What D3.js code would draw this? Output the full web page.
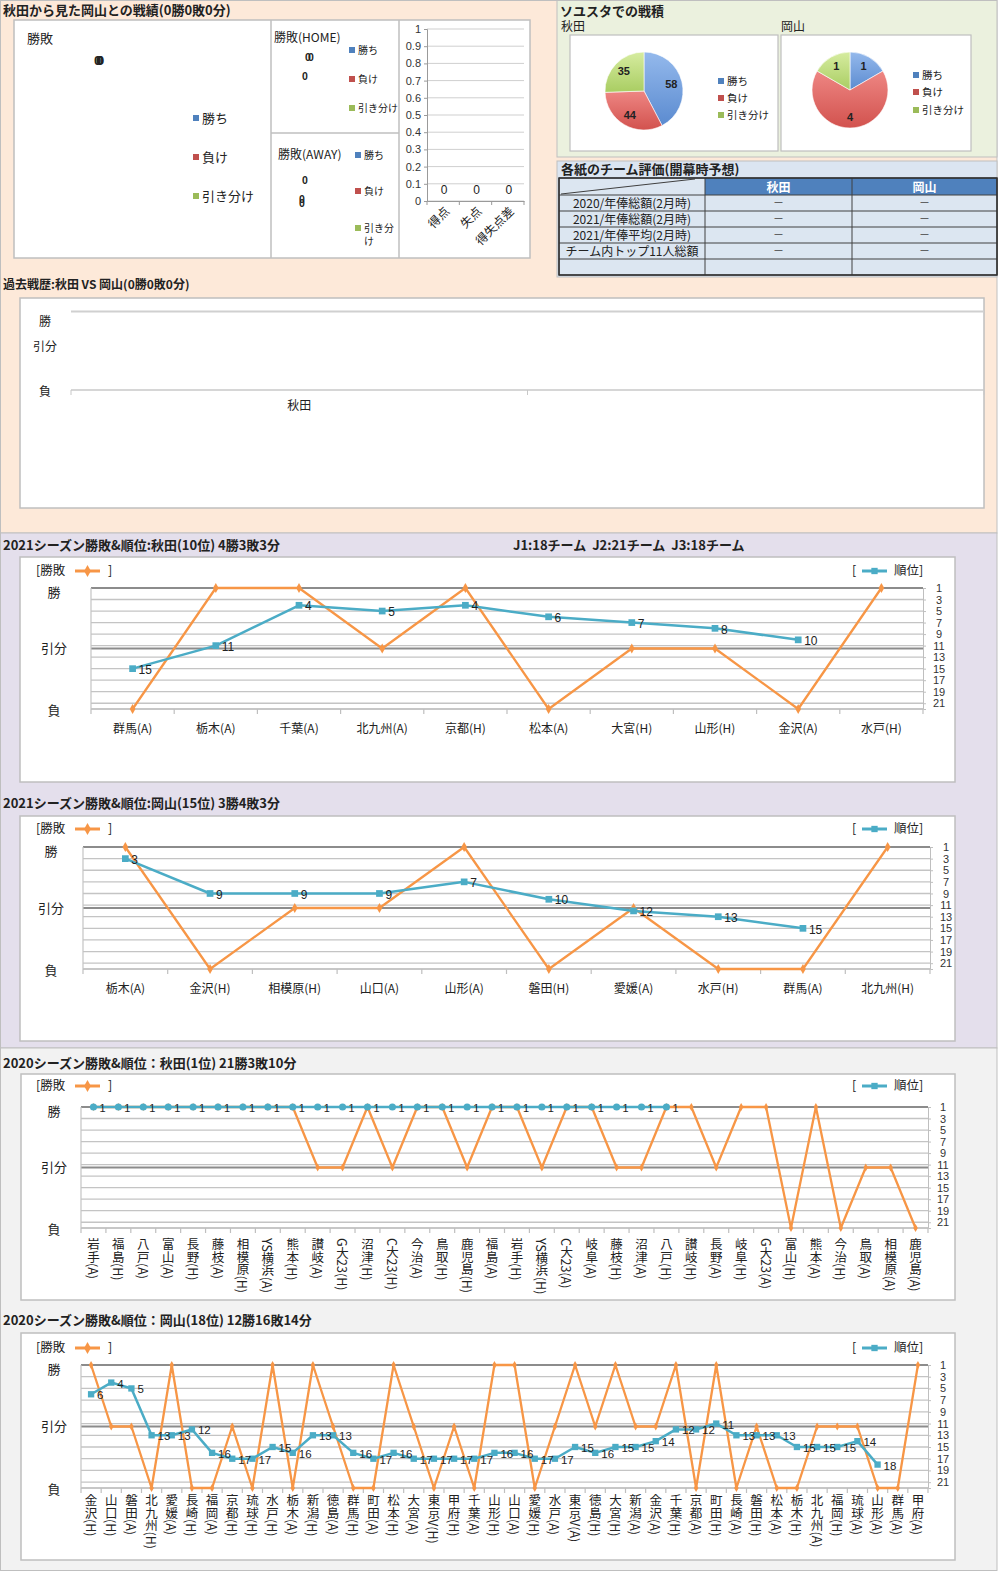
<!DOCTYPE html>
<html><head><meta charset="utf-8">
<script src="https://cdn.jsdelivr.net/npm/d3@7"></script>
<style>
body{margin:0;background:#fff}
svg{display:block}
text{font-family:"Noto Sans CJK JP","Noto Sans",sans-serif;fill:#222}
text.num{font-family:"Liberation Sans","DejaVu Sans",sans-serif}
</style>
</head><body>
<svg id="c" width="1000" height="1571"></svg>
<script>
// ---------------- DATA ----------------
const resultLabels = ["勝","引分","負"];
const resultValues = [1, 0, -1];
const rankTicks = [1,3,5,7,9,11,13,15,17,19,21];
const wldNames = ["勝ち","負け","引き分け"];

// head-to-head (all zero)
const overallWLD = [0,0,0];
const homeWLD = [0,0,0];
const awayWLD = [0,0,0];
const scoreCats = ["得点","失点","得失点差"];
const scoreVals = [0,0,0];

// stadium record
const stadiumAkita = [58,44,35];
const stadiumOkayama = [1,4,1];

// evaluation table
const tableHeader = ["秋田","岡山"];
const tableRows = ["2020/年俸総額(2月時)","2021/年俸総額(2月時)","2021/年俸平均(2月時)","チーム内トップ11人総額",""];
const tableAkita = ["－","－","－","－",""];
const tableOkayama = ["－","－","－","－",""];

// past record
const pastCats = ["秋田",""];
const pastLabelVals = [1, 0.3, -1];

// 2021 Akita
const akita2021Opp = ["群馬(A)","栃木(A)","千葉(A)","北九州(A)","京都(H)","松本(A)","大宮(H)","山形(H)","金沢(A)","水戸(H)"];
const akita2021Res = [-1,1,1,0,1,-1,0,0,-1,1];
const akita2021Rank = [15,11,4,5,4,6,7,8,10,null];

// 2021 Okayama
const okayama2021Opp = ["栃木(A)","金沢(H)","相模原(H)","山口(A)","山形(A)","磐田(H)","愛媛(A)","水戸(H)","群馬(A)","北九州(H)"];
const okayama2021Res = [1,-1,0,0,1,-1,0,-1,-1,1];
const okayama2021Rank = [3,9,9,9,7,10,12,13,15,null];

// 2020 Akita
const akita2020Opp = ["岩手(A)","福島(H)","八戸(A)","富山(A)","長野(H)","藤枝(A)","相模原(H)","YS横浜(A)","熊本(H)","讃岐(A)","G大23(H)","沼津(H)","C大23(H)","今治(A)","鳥取(H)","鹿児島(H)","福島(A)","岩手(H)","YS横浜(H)","C大23(A)","岐阜(A)","藤枝(H)","沼津(A)","八戸(H)","讃岐(H)","長野(A)","岐阜(H)","G大23(A)","富山(H)","熊本(A)","今治(H)","鳥取(A)","相模原(A)","鹿児島(A)"];
const akita2020Res = [1,1,1,1,1,1,1,1,1,0,0,1,0,1,1,0,1,1,0,1,1,0,0,1,1,0,1,1,-1,1,-1,0,0,-1];
const akita2020Rank = [1,1,1,1,1,1,1,1,1,1,1,1,1,1,1,1,1,1,1,1,1,1,1,1,null,null,null,null,null,null,null,null,null,null];

// 2020 Okayama
const okayama2020Opp = ["金沢(H)","山口(H)","磐田(A)","北九州(H)","愛媛(A)","長崎(H)","福岡(A)","京都(H)","琉球(H)","水戸(H)","栃木(A)","新潟(H)","徳島(A)","群馬(H)","町田(A)","松本(H)","大宮(A)","東京V(H)","甲府(H)","千葉(A)","山形(H)","山口(A)","愛媛(H)","水戸(A)","東京V(A)","徳島(H)","大宮(H)","新潟(A)","金沢(A)","千葉(H)","京都(A)","町田(H)","長崎(A)","磐田(H)","松本(A)","栃木(H)","北九州(A)","福岡(H)","琉球(A)","山形(A)","群馬(A)","甲府(A)"];
const okayama2020Res = [1,0,0,-1,1,-1,-1,0,-1,1,-1,1,0,-1,-1,1,0,-1,0,-1,1,1,-1,0,1,0,1,0,0,1,-1,1,-1,0,-1,-1,0,0,0,-1,-1,1];
const okayama2020Rank = [6,4,5,13,13,12,16,17,17,15,16,13,13,16,17,16,17,17,17,17,16,16,17,17,15,16,15,15,14,12,12,11,13,13,13,15,15,15,14,18,null,null];

// ---------------- DRAWING ----------------
const svg = d3.select("#c");
const ORANGE = "#f79646", BLUE = "#4bacc6";
const legendColors = ["#4f81bd","#c0504d","#9bbb59"];
const pieTop = ["#94b9ec","#ee8683","#d6eca0"];
const pieBottom = ["#5b8bd0","#d2524e","#a9cd62"];

const defs = svg.append("defs");
pieTop.forEach((c,i)=>{
  const lg = defs.append("linearGradient").attr("id","pg"+i).attr("x1",0).attr("y1",0).attr("x2",0).attr("y2",1);
  lg.append("stop").attr("offset","0%").attr("stop-color",c);
  lg.append("stop").attr("offset","100%").attr("stop-color",pieBottom[i]);
});

function rect(parent,x0,y0,x1,y1,fill,stroke,sw){
  return parent.append("rect").attr("x",x0).attr("y",y0).attr("width",x1-x0).attr("height",y1-y0)
    .attr("fill",fill).attr("stroke",stroke||"none").attr("stroke-width",sw||1);
}
function txt(parent,x,y,t,size,opt){
  opt = opt||{};
  const e = parent.append("text").attr("x",x).attr("y",y).attr("dy","0.35em")
    .attr("font-size",size).text(t);
  if(opt.bold) e.attr("font-weight","bold");
  if(opt.anchor) e.attr("text-anchor",opt.anchor);
  if(opt.fill) e.style("fill",opt.fill);
  return e;
}
function hline(parent,x1,x2,y,stroke,w){
  return parent.append("line").attr("x1",x1).attr("x2",x2).attr("y1",y).attr("y2",y).attr("stroke",stroke).attr("stroke-width",w||1);
}
function vline(parent,x,y1,y2,stroke,w){
  return parent.append("line").attr("x1",x).attr("x2",x).attr("y1",y1).attr("y2",y2).attr("stroke",stroke).attr("stroke-width",w||1);
}

// section backgrounds
rect(svg,0.5,0.5,997,533,"#fde9d9","#bfbfbf");
rect(svg,557,0.5,997,157,"#ebf1de","#bfbfbf");
rect(svg,557,161,997,277,"#dbe5f1","#bfbfbf");
rect(svg,0.5,533,997,1048,"#e4dfec","#bfbfbf");
rect(svg,0.5,1048,997,1570.5,"#f2f2f2","#bfbfbf");

// ===== Section 1: head to head =====
const s1 = svg.append("g");
txt(s1,3,10,"秋田から見た岡山との戦績(0勝0敗0分)",13,{bold:true});
rect(s1,14,20,530,258,"#fff","#bfbfbf",1.5);
vline(s1,271,20,258,"#bfbfbf",1.5);
vline(s1,399,20,258,"#bfbfbf",1.5);
hline(s1,271,399,133,"#bfbfbf",1.5);

function emptyPiePanel(g, title, tx, ty, vals, labelPts, legX, legYs, fs, legFs, wrapLast, valFs){
  txt(g,tx,ty,title,fs);
  g.selectAll(null).data(vals).join("text").attr("class","num")
    .attr("x",(d,i)=>labelPts[i][0]).attr("y",(d,i)=>labelPts[i][1]).attr("dy","0.35em")
    .attr("font-size",valFs).attr("font-weight","bold").text(d=>d);
  wldNames.forEach((d,i)=>{
    const s = g.append("g");
    s.append("rect").attr("x",legX).attr("y",legYs[i]-3).attr("width",6).attr("height",6).attr("fill",legendColors[i]);
    if(wrapLast && i===2){
      txt(s,legX+9,legYs[i],"引き分",legFs);
      txt(s,legX+9,legYs[i]+13,"け",legFs);
    } else txt(s,legX+9,legYs[i],d,legFs);
  });
}
emptyPiePanel(s1,"勝敗",27,38,overallWLD,[[94,60],[97,60],[96,60]],193,[118,157,196],13,13,false,13);
emptyPiePanel(s1,"勝敗(HOME)",274,38,homeWLD,[[305,57],[308,57],[302,76]],349,[50,79,108],12,10,false,10.5);
emptyPiePanel(s1,"勝敗(AWAY)",278,155,awayWLD,[[302,180],[299,199],[299,203]],355,[155,191,228],12,10,true,10.5);

// score bar chart
{
  const g = s1.append("g");
  const y = d3.scaleLinear().domain([0,1]).range([201,29]);
  const x = d3.scaleBand().domain(scoreCats).range([427,524]);
  g.selectAll(null).data(y.ticks(10)).join("line")
    .attr("x1",427).attr("x2",524).attr("y1",d=>y(d)).attr("y2",d=>y(d))
    .attr("stroke","#cfcfcf").attr("stroke-width",1);
  const ya = g.append("g").attr("transform","translate(427,0)")
    .call(d3.axisLeft(y).ticks(10).tickSize(3).tickFormat(d=>String(+d.toFixed(1))));
  ya.select(".domain").attr("stroke","#9a9a9a");
  ya.selectAll("line").attr("stroke","#9a9a9a");
  ya.selectAll("text").attr("class","num").attr("font-size",11).style("fill","#333");
  const xa = g.append("g").attr("transform","translate(0,201)")
    .call(d3.axisBottom(x).tickSize(0).tickFormat(""));
  xa.select(".domain").attr("stroke","#9a9a9a");
  g.selectAll(null).data(d3.range(scoreCats.length+1)).join("line")
    .attr("x1",i=>427+i*x.step()).attr("x2",i=>427+i*x.step()).attr("y1",201).attr("y2",205)
    .attr("stroke","#9a9a9a");
  g.selectAll(null).data(scoreVals).join("text").attr("class","num")
    .attr("x",(d,i)=>x(scoreCats[i])+x.bandwidth()/2+1).attr("y",190).attr("dy","0.35em")
    .attr("text-anchor","middle").attr("font-size",12).text(d=>d);
  g.selectAll(null).data(scoreCats).join("text")
    .attr("transform",d=>`translate(${x(d)+x.bandwidth()/2+4},${209}) rotate(-45)`)
    .attr("text-anchor","end").attr("font-size",12).attr("dy","0.35em").text(d=>d);
}

// ===== Stadium record pies =====
const s2 = svg.append("g");
txt(s2,560,11,"ソユスタでの戦積",13,{bold:true});
txt(s2,561,27,"秋田",12);
txt(s2,781,27,"岡山",12);
rect(s2,570,35,778,151,"#fff","#bfbfbf",1.2);
rect(s2,781,35,971,151,"#fff","#bfbfbf",1.2);
function pieChart(vals, cx, cy, r, legX, legYs){
  const g = s2.append("g").attr("transform",`translate(${cx},${cy})`);
  const arcs = d3.pie().sort(null)(vals);
  const arc = d3.arc().innerRadius(0).outerRadius(r);
  const la = d3.arc().innerRadius(r*0.72).outerRadius(r*0.72);
  g.selectAll(null).data(arcs).join("path").attr("d",arc)
    .attr("fill",(d,i)=>`url(#pg${i})`).attr("stroke","#fff").attr("stroke-width",0.6);
  g.selectAll(null).data(arcs).join("text").attr("class","num")
    .attr("transform",d=>`translate(${la.centroid(d)})`).attr("dy","0.35em")
    .attr("text-anchor","middle").attr("font-size",11).attr("font-weight","bold").text(d=>d.data);
  const lg = s2.append("g");
  lg.selectAll(null).data(wldNames).join("rect")
    .attr("x",legX).attr("y",(d,i)=>legYs[i]-3).attr("width",6).attr("height",6).attr("fill",(d,i)=>legendColors[i]);
  lg.selectAll(null).data(wldNames).join("text")
    .attr("x",legX+9).attr("y",(d,i)=>legYs[i]).attr("dy","0.35em").attr("font-size",10.5).text(d=>d);
}
pieChart(stadiumAkita,644,91,39,718,[81,98,115]);
pieChart(stadiumOkayama,850,90,38,913,[75,92,110]);

// ===== Evaluation table =====
{
  const g = svg.append("g");
  txt(g,561,169,"各紙のチーム評価(開幕時予想)",13,{bold:true});
  const colX = [559,705,852,997];
  const rowY = [178,195,211,227,243,259,275];
  g.append("rect").attr("x",colX[0]).attr("y",rowY[0]).attr("width",colX[1]-colX[0]).attr("height",rowY[1]-rowY[0]).attr("fill","#dce6f1");
  g.selectAll(null).data(tableHeader).join("rect")
    .attr("x",(d,i)=>colX[i+1]).attr("y",rowY[0]).attr("width",(d,i)=>colX[i+2]-colX[i+1]).attr("height",rowY[1]-rowY[0])
    .attr("fill","#4f81bd");
  g.selectAll(null).data(tableHeader).join("text")
    .attr("x",(d,i)=>(colX[i+1]+colX[i+2])/2).attr("y",(rowY[0]+rowY[1])/2+1).attr("dy","0.35em")
    .attr("text-anchor","middle").attr("font-size",12).attr("font-weight","bold").style("fill","#fff").text(d=>d);
  g.selectAll(null).data(tableRows).join("rect")
    .attr("x",colX[0]).attr("y",(d,i)=>rowY[i+1]).attr("width",colX[3]-colX[0]).attr("height",(d,i)=>rowY[i+2]-rowY[i+1])
    .attr("fill","#dce6f1");
  g.selectAll(null).data(tableRows).join("text")
    .attr("x",(colX[0]+colX[1])/2).attr("y",(d,i)=>(rowY[i+1]+rowY[i+2])/2+1).attr("dy","0.35em")
    .attr("text-anchor","middle").attr("font-size",12).text(d=>d);
  g.selectAll(null).data(tableAkita).join("text")
    .attr("x",(colX[1]+colX[2])/2).attr("y",(d,i)=>(rowY[i+1]+rowY[i+2])/2).attr("dy","0.35em")
    .attr("text-anchor","middle").attr("font-size",11).style("fill","#444").text(d=>d);
  g.selectAll(null).data(tableOkayama).join("text")
    .attr("x",(colX[2]+colX[3])/2).attr("y",(d,i)=>(rowY[i+1]+rowY[i+2])/2).attr("dy","0.35em")
    .attr("text-anchor","middle").attr("font-size",11).style("fill","#444").text(d=>d);
  rowY.forEach(y=>hline(g,colX[0],colX[3],y,"#404040",1));
  colX.forEach(x=>vline(g,x,rowY[0],rowY[rowY.length-1],"#404040",1));
  g.append("line").attr("x1",colX[0]+2).attr("y1",rowY[1]-1).attr("x2",colX[1]-10).attr("y2",rowY[0]+1)
    .attr("stroke","#404040").attr("stroke-width",1);
  g.append("rect").attr("x",colX[0]).attr("y",rowY[0]).attr("width",colX[3]-colX[0]).attr("height",rowY[6]-rowY[0])
    .attr("fill","none").attr("stroke","#303030").attr("stroke-width",1.5);
}

// ===== Past record =====
{
  const g = svg.append("g");
  txt(g,3,285,"過去戦歴:秋田 VS 岡山(0勝0敗0分)",12,{bold:true});
  rect(g,20,298,984,508,"#fff","#bfbfbf",1.5);
  const x = d3.scaleBand().domain(pastCats.map((d,i)=>i)).range([71,984]);
  const y = d3.scaleLinear().domain([-1,1]).range([392,322]);
  hline(g,71,984,y(1.3),"#d0d0d0",2);
  hline(g,71,984,390,"#c8c8c8",1.5);
  g.selectAll(null).data(d3.range(pastCats.length+1)).join("line")
    .attr("x1",i=>71+i*x.step()).attr("x2",i=>71+i*x.step()).attr("y1",390).attr("y2",395).attr("stroke","#c8c8c8");
  g.selectAll(null).data(resultLabels).join("text")
    .attr("x",45).attr("y",(d,i)=>y(pastLabelVals[i])).attr("dy","0.35em").attr("text-anchor","middle")
    .attr("font-size",12).text(d=>d);
  g.selectAll(null).data(pastCats).join("text")
    .attr("x",(d,i)=>x(i)+x.bandwidth()/2).attr("y",406).attr("dy","0.35em").attr("text-anchor","middle")
    .attr("font-size",12).text(d=>d);
}

// ===== Combo chart helper =====
function combo(c){
  const g = svg.append("g");
  txt(g,3,c.titleY,c.title,13,{bold:true});
  if(c.sub) txt(g,513,c.titleY,c.sub,13,{bold:true}).style("white-space","pre");
  rect(g,c.box[0],c.box[1],c.box[2],c.box[3],"#fff","#bfbfbf",1.5);
  const n = c.cats.length;
  const x = d3.scaleBand().domain(d3.range(n)).range([c.l,c.r]);
  const cx = i => x(i)+x.bandwidth()/2;
  const yRes = d3.scaleLinear().domain([-1,1]).range([c.b,c.t]);
  const yRank = d3.scaleLinear().domain([1,22]).range([c.t,c.b]);

  g.append("g").selectAll("line").data(rankTicks).join("line")
    .attr("x1",c.l).attr("x2",c.r).attr("y1",d=>yRank(d)).attr("y2",d=>yRank(d))
    .attr("stroke","#c4c4c4").attr("stroke-width",1.3);
  hline(g,c.l,c.r,c.b,"#b4b4b4",1.3);
  g.append("g").selectAll("line").data(resultValues.filter(v=>v>-1)).join("line")
    .attr("x1",c.l).attr("x2",c.r).attr("y1",d=>yRes(d)).attr("y2",d=>yRes(d))
    .attr("stroke","#8c8c8c").attr("stroke-width",2.2);
  vline(g,c.l,c.t,c.b,"#c4c4c4",1.2);
  const ra = g.append("g").attr("transform",`translate(${c.r},0)`)
    .call(d3.axisRight(yRank).tickValues(rankTicks).tickSize(3));
  ra.select(".domain").attr("stroke","#bfbfbf");
  ra.selectAll(".tick line").attr("stroke","#bfbfbf");
  ra.selectAll(".tick text").attr("class","num").attr("x",c.rOff).attr("text-anchor","middle")
    .attr("font-size",11).style("fill","#333");
  g.selectAll(null).data(d3.range(n+1)).join("line")
    .attr("x1",i=>c.l+i*x.step()).attr("x2",i=>c.l+i*x.step()).attr("y1",c.b).attr("y2",c.b+5)
    .attr("stroke","#bfbfbf").attr("stroke-width",1.2);
  g.selectAll(null).data(resultLabels).join("text")
    .attr("x",c.ll).attr("y",(d,i)=>yRes(resultValues[i])+ (i===0?4:(i===1?0:1))).attr("dy","0.35em")
    .attr("text-anchor","middle").attr("font-size",13).text(d=>d);
  if(c.vertical){
    g.selectAll(null).data(c.cats).join("text")
      .attr("x",(d,i)=>cx(i)).attr("y",c.labY)
      .style("writing-mode","vertical-rl").attr("text-anchor","start")
      .attr("font-size",12.5).text(d=>d);
  } else {
    g.selectAll(null).data(c.cats).join("text")
      .attr("x",(d,i)=>cx(i)).attr("y",c.labY).attr("dy","0.35em").attr("text-anchor","middle")
      .attr("font-size",12).text(d=>d);
  }
  g.append("path").datum(c.res)
    .attr("d",d3.line().x((d,i)=>cx(i)).y(d=>yRes(d)))
    .attr("fill","none").attr("stroke",ORANGE).attr("stroke-width",2.3).attr("stroke-linejoin","round");
  g.selectAll(null).data(c.res).join("path")
    .attr("transform",(d,i)=>`translate(${cx(i)},${yRes(d)})`)
    .attr("d",d3.symbol(d3.symbolDiamond,c.diaSize)).attr("fill",ORANGE);
  g.append("path").datum(c.rank)
    .attr("d",d3.line().defined(d=>d!=null).x((d,i)=>cx(i)).y(d=>yRank(d)))
    .attr("fill","none").attr("stroke",BLUE).attr("stroke-width",2.5).attr("stroke-linejoin","round");
  const pts = c.rank.map((d,i)=>({d,i})).filter(p=>p.d!=null);
  g.selectAll(null).data(pts).join("path")
    .attr("transform",p=>`translate(${cx(p.i)},${yRank(p.d)})`)
    .attr("d",d3.symbol(c.circle?d3.symbolCircle:d3.symbolSquare,c.markSize)).attr("fill",BLUE);
  g.selectAll(null).data(pts).join("text").attr("class","num")
    .attr("x",p=>cx(p.i)+c.lblOff).attr("y",p=>yRank(p.d)+1).attr("dy","0.35em")
    .attr("font-size",c.lblFs).text(p=>p.d);
  const ly = c.legY;
  txt(g,36,ly,"[勝敗",12.5);
  hline(g,75,100,ly,ORANGE,3);
  g.append("path").attr("transform",`translate(87.5,${ly})`).attr("d",d3.symbol(d3.symbolDiamond,40)).attr("fill",ORANGE);
  txt(g,108,ly,"]",12.5);
  txt(g,852,ly,"[",12.5);
  hline(g,862,887,ly,BLUE,3);
  g.append("path").attr("transform",`translate(874.5,${ly})`).attr("d",d3.symbol(d3.symbolSquare,40)).attr("fill",BLUE);
  txt(g,894,ly,"順位]",12.5);
}

combo({title:"2021シーズン勝敗&順位:秋田(10位) 4勝3敗3分", sub:"J1:18チーム  J2:21チーム  J3:18チーム",
  titleY:545, box:[20,557,955,782], l:91, r:923, t:588, b:709, legY:571, labY:729, ll:54, rOff:16,
  cats:akita2021Opp, res:akita2021Res, rank:akita2021Rank, vertical:false,
  diaSize:28, markSize:45, circle:false, lblOff:6, lblFs:12});

combo({title:"2021シーズン勝敗&順位:岡山(15位) 3勝4敗3分",
  titleY:803, box:[20,816,955,1041], l:83, r:930, t:847, b:969, legY:829, labY:989, ll:51, rOff:16,
  cats:okayama2021Opp, res:okayama2021Res, rank:okayama2021Rank, vertical:false,
  diaSize:28, markSize:45, circle:false, lblOff:6, lblFs:12});

combo({title:"2020シーズン勝敗&順位：秋田(1位) 21勝3敗10分",
  titleY:1063, box:[21,1074,955,1300], l:81, r:928, t:1107, b:1228, legY:1086, labY:1238, ll:54, rOff:15,
  cats:akita2020Opp, res:akita2020Res, rank:akita2020Rank, vertical:true,
  diaSize:18, markSize:40, circle:true, lblOff:6, lblFs:11});

combo({title:"2020シーズン勝敗&順位：岡山(18位) 12勝16敗14分",
  titleY:1320, box:[21,1333,955,1560], l:81, r:928, t:1365, b:1488, legY:1348, labY:1494, ll:54, rOff:15,
  cats:okayama2020Opp, res:okayama2020Res, rank:okayama2020Rank, vertical:true,
  diaSize:18, markSize:40, circle:false, lblOff:6, lblFs:11.5});
</script>
</body></html>
